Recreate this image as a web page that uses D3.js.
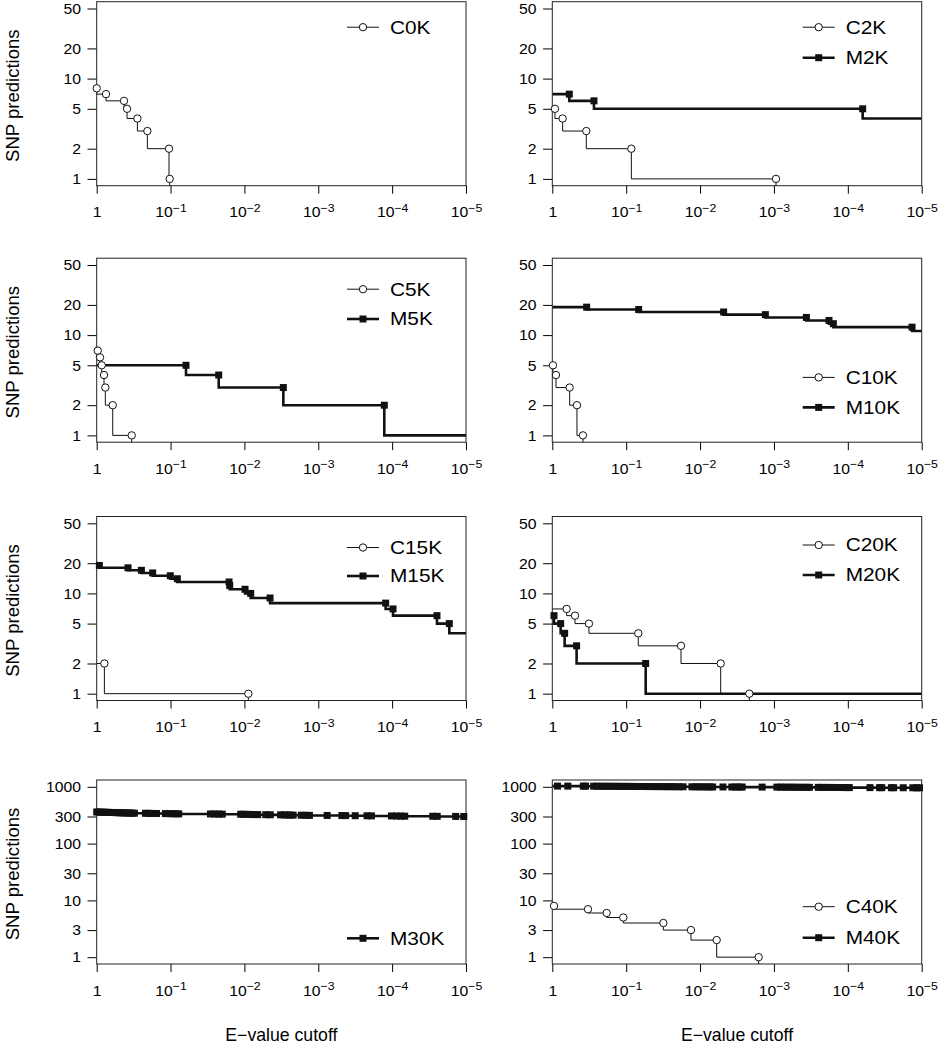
<!DOCTYPE html>
<html><head><meta charset="utf-8">
<script src="https://cdn.jsdelivr.net/npm/d3@7"></script>
<style>body{margin:0;background:#fff}svg{display:block}</style>
</head><body>
<svg id="c" width="939" height="1050"></svg>
<script>
// ---------- tick labels ----------
const yTicksSmall = [1, 2, 5, 10, 20, 50];
const yTicksLarge = [1, 3, 10, 30, 100, 300, 1000];
const xTicks = [1, 1e-1, 1e-2, 1e-3, 1e-4, 1e-5];

// ---------- data: D = -log10(E-value cutoff), N = SNP predictions ----------
const c0kD = [0, 0.126, 0.370, 0.411, 0.551, 0.686, 0.979, 0.988];
const c0kN = [8, 7, 6, 5, 4, 3, 2, 1];
const c2kD = [0.036, 0.140, 0.460, 1.070, 3.028];
const c2kN = [5, 4, 3, 2, 1];
const m2kD = [0.230, 0.564, 4.201];
const m2kN = [7, 6, 5];
const c5kD = [0.014, 0.045, 0.068, 0.099, 0.117, 0.217, 0.474];
const c5kN = [7, 6, 5, 4, 3, 2, 1];
const m5kD = [1.209, 1.652, 2.527, 3.894];
const m5kN = [5, 4, 3, 2];
const c10kD = [0.009, 0.050, 0.235, 0.334, 0.415];
const c10kN = [5, 4, 3, 2, 1];
const m10kD = [0.465, 1.169, 2.319, 2.884, 3.439, 3.745, 3.804, 4.869];
const m10kN = [19, 18, 17, 16, 15, 14, 13, 12];
const c15kD = [0.104, 2.053];
const c15kN = [2, 1];
const m15kD = [0.036, 0.424, 0.605, 0.758, 0.997, 1.092, 1.792, 1.801, 2.008, 2.085, 2.347, 3.912, 4.012, 4.607, 4.774];
const m15kN = [19, 18, 17, 16, 15, 14, 13, 12, 11, 10, 9, 8, 7, 6, 5];
const c20kD = [0.194, 0.307, 0.496, 1.164, 1.742, 2.279, 2.667];
const c20kN = [7, 6, 5, 4, 3, 2, 1];
const m20kD = [0.023, 0.113, 0.167, 0.329, 1.264];
const m20kN = [6, 5, 4, 3, 2];
const m30kD = [0.00,0.03,0.06,0.09,0.12,0.15,0.18,0.21,0.24,0.27,0.30,0.33,0.36,0.39,0.42,0.45,0.48,0.51,
  0.66,0.70,0.75,0.81, 0.93,0.98,1.02,1.07,1.11, 1.54,1.60,1.65,1.70, 1.95,1.99,2.04,2.09,2.13,2.18,
  2.29,2.35, 2.49,2.54,2.58,2.62,2.66, 2.77,2.83,2.88, 3.12, 3.32,3.37, 3.50, 3.66,3.72,
  3.99,4.06,4.12,4.17, 4.55,4.61, 4.86, 4.97];
const m30kN = [360,359,358,357,356,355,354,353,352,351,350,349,348,347,346,345,344,343,
  342,341,340,339, 338,337,336,335,334, 333,332,331,330, 329,328,327,326,325,324,
  323,322, 321,320,319,318,317, 316,315,314, 313, 312,311, 310, 309,308,
  307,306,305,304, 303,302, 301, 300];
const c40kD = [0.023, 0.483, 0.736, 0.961, 1.503, 1.877, 2.225, 2.793];
const c40kN = [8, 7, 6, 5, 4, 3, 2, 1];
const m40kD = [0.07,0.21,0.42,0.45,
  0.56,0.61,0.66,0.71,0.76,0.81,0.86,0.91,0.96,1.01,1.06,1.11,1.16,1.21,1.26,1.31,1.36,1.41,1.46,1.51,1.56,1.61,1.66,1.71,1.77,
  1.89,1.94,1.99,2.04,2.09,2.13,2.17, 2.31, 2.43,2.48,2.53,2.57, 2.84,
  3.04,3.09,3.14,3.19,3.24,3.29,3.34,3.39,3.44,3.48,
  3.60,3.65,3.70,3.75,3.80,3.85,3.90,3.95,3.99,4.02,
  4.30, 4.43,4.46, 4.59,4.62, 4.75, 4.88,4.93,4.97];
const m40kN = [1030,1029,1028,1027,
  1026,1025,1024,1023,1022,1021,1020,1019,1018,1017,1016,1015,1014,1013,1012,1011,1010,1009,1008,1007,1006,1005,1004,1003,1002,
  1001,1000,999,998,997,996,995, 994, 993,992,991,990, 989,
  988,987,986,985,984,983,982,981,980,979,
  978,977,976,975,974,973,972,971,970,969,
  968, 967,966, 965,964, 963, 962,961,960];

// value after the last point (0 = drops out of the plot)
const tails = {C0K:0, C2K:0, M2K:4, C5K:0, M5K:1, C10K:0, M10K:11, C15K:0, M15K:4, C20K:0, M20K:1, M30K:299, C40K:0, M40K:959};

function ser(name, D, N, type) { return {name, type, tail: tails[name], pts: D.map((d, i) => ({e: Math.pow(10, -d), n: N[i]}))}; }

const panels = [
  {series: [ser("C0K", c0kD, c0kN, "C")], yMax: 50, ticks: yTicksSmall, leg: "top", legY: [25.5]},
  {series: [ser("C2K", c2kD, c2kN, "C"), ser("M2K", m2kD, m2kN, "M")], yMax: 50, ticks: yTicksSmall, leg: "top", legY: [25.5, 56]},
  {series: [ser("C5K", c5kD, c5kN, "C"), ser("M5K", m5kD, m5kN, "M")], yMax: 50, ticks: yTicksSmall, leg: "top", legY: [31, 60.8]},
  {series: [ser("C10K", c10kD, c10kN, "C"), ser("M10K", m10kD, m10kN, "M")], yMax: 50, ticks: yTicksSmall, leg: "bottom", legY: [-64.8, -34.8]},
  {series: [ser("C15K", c15kD, c15kN, "C"), ser("M15K", m15kD, m15kN, "M")], yMax: 50, ticks: yTicksSmall, leg: "top", legY: [31, 59.5]},
  {series: [ser("C20K", c20kD, c20kN, "C"), ser("M20K", m20kD, m20kN, "M")], yMax: 50, ticks: yTicksSmall, leg: "top", legY: [28.5, 58.5]},
  {series: [ser("M30K", m30kD, m30kN, "M")], yMax: 1000, ticks: yTicksLarge, leg: "bottom", legY: [-25.7]},
  {series: [ser("C40K", c40kD, c40kN, "C"), ser("M40K", m40kD, m40kN, "M")], yMax: 1000, ticks: yTicksLarge, leg: "bottom", legY: [-57.3, -26.3]}
];

// ---------- layout ----------
const FONT = "'Liberation Sans', Arial, Helvetica, sans-serif";
const colX = [[96.7, 466], [552.3, 921.7]];
const rowTop = [1.7, 258.2, 516.5, 780];
const plotH = 184;
const TICK_FS = 15, TICK_SX = 1.05;
const TITLE_FS = 17.5, TITLE_SX = 1.01, YTITLE_SX = 1.06;
const LEG_FS = 17.5, LEG_SX = 1.19;
const INK = "#000";

const svg = d3.select("#c");
const defs = svg.append("defs");

function addText(g, x, y, str, fs, sx, anchor) {
  return g.append("text").attr("transform", `translate(${x},${y}) scale(${sx},1)`)
    .attr("font-family", FONT).attr("font-size", fs).attr("text-anchor", anchor)
    .attr("fill", INK).text(str);
}

panels.forEach((p, i) => {
  const r = Math.floor(i / 2), c = i % 2;
  const [x0, x1] = colX[c];
  const y0 = rowTop[r], y1 = y0 + plotH;
  const x = d3.scaleLog().domain([1, 1e-5]).range([x0, x1]);
  const ext = Math.log10(p.yMax) * 0.04;
  const y = d3.scaleLog().domain([Math.pow(10, -ext), Math.pow(10, Math.log10(p.yMax) + ext)]).range([y1, y0]);
  const g = svg.append("g");
  const cid = "clip" + i;
  defs.append("clipPath").attr("id", cid).append("rect")
    .attr("x", x0).attr("y", y0).attr("width", x1 - x0).attr("height", y1 - y0);

  // y axis
  const ya = g.append("g").attr("transform", `translate(${x0},0)`)
    .call(d3.axisLeft(y).tickValues(p.ticks).tickFormat(d3.format("d")).tickSize(9.2).tickPadding(6.5));
  ya.select(".domain").remove();
  ya.attr("font-family", FONT).attr("font-size", TICK_FS).attr("color", INK);
  ya.selectAll("text").attr("x", -15.7 / TICK_SX).attr("transform", `scale(${TICK_SX},1)`);

  // x axis
  const xa = g.append("g").attr("transform", `translate(0,${y1})`)
    .call(d3.axisBottom(x).tickValues(xTicks).tickSize(8).tickPadding(12.9).tickFormat(() => ""));
  xa.select(".domain").remove();
  xa.attr("font-family", FONT).attr("font-size", TICK_FS).attr("color", INK);
  xa.selectAll("text").attr("transform", `scale(${TICK_SX},1)`).each(function (d) {
    const t = d3.select(this);
    const k = Math.round(-Math.log10(d));
    if (k === 0) { t.text("1"); return; }
    t.append("tspan").text("10");
    t.append("tspan").attr("dy", "-0.45em").attr("font-size", "0.78em").text("\u2212" + k);
  });

  // box
  g.append("rect").attr("x", x0).attr("y", y0).attr("width", x1 - x0).attr("height", y1 - y0)
    .attr("fill", "none").attr("stroke", "#222").attr("stroke-width", 1);

  // series: M first, C on top
  const ordered = p.series.filter(s => s.type === "M").concat(p.series.filter(s => s.type === "C"));
  ordered.forEach(s => {
    const pts = s.pts;
    let dstr = `M${x(1)},${y(pts[0].n)}`;
    pts.forEach((pt, j) => {
      dstr += `L${x(pt.e)},${y(pt.n)}`;
      if (j < pts.length - 1) dstr += `L${x(pt.e)},${y(pts[j + 1].n)}`;
    });
    const last = pts[pts.length - 1];
    if (s.tail > 0) dstr += `L${x(last.e)},${y(s.tail)}L${x(1e-5)},${y(s.tail)}`;
    else dstr += `L${x(last.e)},${y1 + 5}`;
    g.append("path").attr("d", dstr).attr("fill", "none").attr("stroke", "#111")
      .attr("stroke-width", s.type === "M" ? 2.6 : 1).attr("clip-path", `url(#${cid})`);
    if (s.type === "M") {
      g.selectAll(null).data(pts).enter().append("rect")
        .attr("x", d => x(d.e) - 3.5).attr("y", d => y(d.n) - 3.5).attr("width", 7).attr("height", 7)
        .attr("fill", "#111");
    } else {
      g.selectAll(null).data(pts).enter().append("circle")
        .attr("cx", d => x(d.e)).attr("cy", d => y(d.n)).attr("r", 3.7)
        .attr("fill", "#fff").attr("stroke", "#111").attr("stroke-width", 1);
    }
  });

  // legend
  const tx = x1 - 76;
  p.series.forEach((s, j) => {
    const ly = (p.leg === "top" ? y0 : y1) + p.legY[j];
    g.append("line").attr("x1", tx - 43).attr("x2", tx - 11).attr("y1", ly).attr("y2", ly)
      .attr("stroke", "#111").attr("stroke-width", s.type === "M" ? 2.6 : 1);
    if (s.type === "M") {
      g.append("rect").attr("x", tx - 27 - 3.5).attr("y", ly - 3.5).attr("width", 7).attr("height", 7).attr("fill", "#111");
    } else {
      g.append("circle").attr("cx", tx - 27).attr("cy", ly).attr("r", 3.7).attr("fill", "#fff").attr("stroke", "#111");
    }
    addText(g, tx, ly, s.name, LEG_FS, LEG_SX, "start").attr("dy", "0.36em");
  });

  // axis titles
  if (c === 0) {
    const cy = (y0 + y1) / 2 + 2;
    g.append("text").attr("transform", `translate(12.5,${cy}) rotate(-90) scale(${YTITLE_SX},1)`)
      .attr("font-family", FONT).attr("font-size", TITLE_FS).attr("text-anchor", "middle")
      .attr("dy", "0.36em").attr("fill", INK).text("SNP predictions");
  }
  if (r === 3) {
    addText(g, (x0 + x1) / 2, 1040.5, "E\u2212value cutoff", TITLE_FS, TITLE_SX, "middle");
  }
});
</script>
</body></html>
